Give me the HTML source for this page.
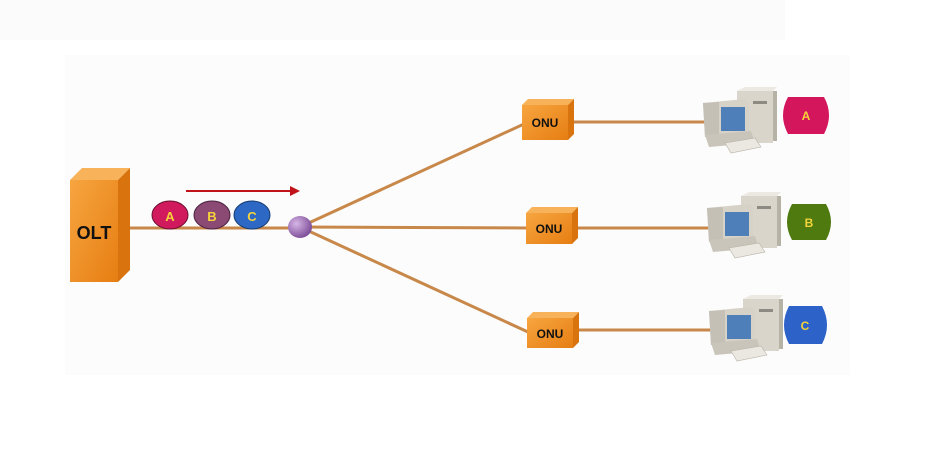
<!DOCTYPE html>
<html><head><meta charset="utf-8"><style>
html,body{margin:0;padding:0;background:#fff;}
svg{display:block;}
text{font-family:"Liberation Sans",sans-serif;font-weight:bold;}
</style></head><body>
<svg width="950" height="457" viewBox="0 0 950 457" xmlns="http://www.w3.org/2000/svg">
<defs>
<linearGradient id="og" x1="0" y1="0" x2="1" y2="1"><stop offset="0" stop-color="#f7a540"/><stop offset="1" stop-color="#e67e12"/></linearGradient>
<radialGradient id="sp" cx="0.35" cy="0.35" r="0.7"><stop offset="0" stop-color="#d6b6e6"/><stop offset="1" stop-color="#7b4b96"/></radialGradient>
<g id="pc">
  <rect x="34" y="0" width="36" height="52" fill="#d9d5cb"/>
  <polygon points="34,0 42,-4 74,-4 70,0" fill="#ece9e2"/>
  <rect x="70" y="0" width="4" height="50" fill="#b7b2a6"/>
  <rect x="50" y="10" width="14" height="3" fill="#8d8a84"/>
  <polygon points="0,12 42,8 46,12 46,44 2,46" fill="#d6d2c7"/>
  <polygon points="0,12 16,11 16,46 2,46" fill="#c4c0b5"/>
  <rect x="18" y="16" width="24" height="24" fill="#4f7fb8"/>
  <polygon points="2,44 48,40 52,52 6,56" fill="#c9c5ba"/>
  <polygon points="22,52 52,47 58,56 28,62" fill="#ebe8e1" stroke="#b7b2a6" stroke-width="0.6"/>
</g>
</defs>
<rect x="0" y="0" width="785" height="40" fill="#fbfbfb"/>
<rect x="65" y="55" width="785" height="320" fill="#fcfcfc"/>

<g stroke="#c8884a" stroke-width="3" fill="none">
  <line x1="128" y1="228" x2="300" y2="228"/>
  <line x1="300" y1="227" x2="524" y2="124"/>
  <line x1="300" y1="227" x2="528" y2="228"/>
  <line x1="300" y1="227" x2="528" y2="332"/>
  <line x1="568" y1="122" x2="706" y2="122"/>
  <line x1="572" y1="228" x2="710" y2="228"/>
  <line x1="573" y1="330" x2="712" y2="330"/>
</g>

<polygon points="70,180 82,168 130,168 118,180" fill="#f8b35a"/>
<polygon points="118,180 130,168 130,270 118,282" fill="#d8730e"/>
<rect x="70" y="180" width="48" height="102" fill="url(#og)"/>
<text x="94" y="239" font-size="18" text-anchor="middle" fill="#111">OLT</text>

<line x1="186" y1="191" x2="292" y2="191" stroke="#c0141a" stroke-width="2"/>
<polygon points="300,191 290,186 290,196" fill="#c0141a"/>

<ellipse cx="170" cy="215" rx="18" ry="14" fill="#d11a5e" stroke="#6a1030" stroke-width="1"/>
<text x="170" y="221" font-size="13" font-weight="normal" text-anchor="middle" fill="#f4d43a">A</text>
<ellipse cx="212" cy="215" rx="18" ry="14" fill="#8a4a74" stroke="#4a2040" stroke-width="1"/>
<text x="212" y="221" font-size="13" font-weight="normal" text-anchor="middle" fill="#f4d43a">B</text>
<ellipse cx="252" cy="215" rx="18" ry="14" fill="#2d68c4" stroke="#163a70" stroke-width="1"/>
<text x="252" y="221" font-size="13" font-weight="normal" text-anchor="middle" fill="#f4d43a">C</text>

<ellipse cx="300" cy="227" rx="12" ry="11" fill="url(#sp)"/>

<g>
  <polygon points="522,105 528,99 574,99 568,105" fill="#f8b35a"/>
  <polygon points="568,105 574,99 574,134 568,140" fill="#d8730e"/>
  <rect x="522" y="105" width="46" height="35" fill="url(#og)"/>
  <text x="545" y="127" font-size="12" text-anchor="middle" fill="#111">ONU</text>
</g>
<g>
  <polygon points="526,213 532,207 578,207 572,213" fill="#f8b35a"/>
  <polygon points="572,213 578,207 578,238 572,244" fill="#d8730e"/>
  <rect x="526" y="213" width="46" height="31" fill="url(#og)"/>
  <text x="549" y="233" font-size="12" text-anchor="middle" fill="#111">ONU</text>
</g>
<g>
  <polygon points="527,318 533,312 579,312 573,318" fill="#f8b35a"/>
  <polygon points="573,318 579,312 579,342 573,348" fill="#d8730e"/>
  <rect x="527" y="318" width="46" height="30" fill="url(#og)"/>
  <text x="550" y="338" font-size="12" text-anchor="middle" fill="#111">ONU</text>
</g>

<use href="#pc" x="703" y="91"/>
<use href="#pc" x="707" y="196"/>
<use href="#pc" x="709" y="299"/>

<path d="M788,97 Q778,115 788,134 L824,134 Q834,115 824,97 Z" fill="#d4165c"/>
<text x="806" y="120" font-size="12" font-weight="normal" text-anchor="middle" fill="#f4d43a">A</text>
<path d="M792,204 Q782,222 792,240 L826,240 Q836,222 826,204 Z" fill="#4e7a10"/>
<text x="809" y="227" font-size="12" font-weight="normal" text-anchor="middle" fill="#f4d43a">B</text>
<path d="M789,306 Q779,325 789,344 L822,344 Q832,325 822,306 Z" fill="#2d62c8"/>
<text x="805" y="330" font-size="12" font-weight="normal" text-anchor="middle" fill="#f4d43a">C</text>
</svg>
</body></html>
